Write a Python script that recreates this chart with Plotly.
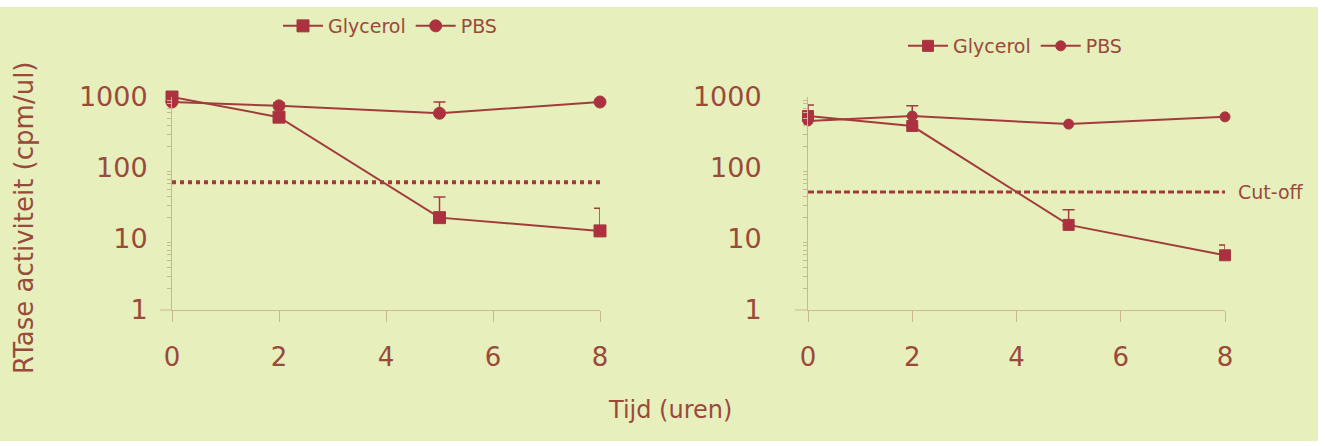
import math
import plotly.graph_objects as go

W, H = 1325, 446

# ---------------- data ----------------
time_h = [0, 2, 5, 8]

# left panel
left_glycerol = [1000, 520, 20, 13]
left_glycerol_err = [60, 60, 19, 14]
left_pbs = [850, 750, 590, 850]
left_pbs_err = [0, 70, 260, 0]
left_cutoff = [63, 63]

# right panel
right_glycerol = [540, 390, 15.8, 5.9]
right_glycerol_err = [230, 0, 10, 2.3]
right_pbs = [460, 540, 415, 525]
right_pbs_err = [0, 210, 0, 0]
right_cutoff = [46, 46]

cutoff_x = [0, 8]
x_ticks = [0, 2, 4, 6, 8]
y_ticks = [1, 10, 100, 1000]
y_ticklabels = ["1", "10", "100", "1000"]
y_minor = [m * d for d in (1, 10, 100) for m in range(2, 10)]

series_names = ["Glycerol", "PBS"]

# ---------------- style ----------------
BG = "#e7efbd"
LINE = "#a23c3c"
MARK = "#ad3040"
TEXT = "#9a4a3a"
AXIS = "#cbb98e"
FONT = "DejaVu Sans"

def px_x(p):
    return p / W

def px_y(p):
    return 1 - p / H

fig = go.Figure()

def add_series(xa, ya, yvals, errs, name, symbol, legend, size):
    fig.add_trace(go.Scatter(
        x=time_h, y=yvals, name=name, mode="lines+markers",
        xaxis=xa, yaxis=ya, legend=legend,
        line=dict(color=LINE, width=2),
        marker=dict(symbol=symbol, size=size, color=MARK, line=dict(color=LINE, width=1)),
        error_y=dict(type="data", symmetric=False, array=errs,
                     arrayminus=[0] * len(errs), color=LINE, thickness=1.5, width=6),
        cliponaxis=False,
    ))

add_series("x", "y", left_glycerol, left_glycerol_err, series_names[0], "square", "legend", 12)
add_series("x", "y", left_pbs, left_pbs_err, series_names[1], "circle", "legend", 12)
add_series("x2", "y2", right_glycerol, right_glycerol_err, series_names[0], "square", "legend2", 11)
add_series("x2", "y2", right_pbs, right_pbs_err, series_names[1], "circle", "legend2", 10)

# cut-off lines
fig.add_trace(go.Scatter(x=cutoff_x, y=left_cutoff, mode="lines", xaxis="x", yaxis="y",
                         line=dict(color=LINE, width=4, dash="dot"), showlegend=False,
                         hoverinfo="skip"))
fig.add_trace(go.Scatter(x=cutoff_x, y=right_cutoff, mode="lines", xaxis="x2", yaxis="y2",
                         line=dict(color=LINE, width=3, dash="6px,3px"), showlegend=False,
                         hoverinfo="skip"))

common_x = dict(
    range=[0, 8], tickvals=x_ticks, showline=True, linecolor=AXIS, linewidth=1,
    ticks="outside", ticklen=11, tickcolor=AXIS, tickwidth=1, showgrid=False,
    zeroline=False, tickfont=dict(family=FONT, size=26, color=TEXT),
    ticklabelstandoff=13, automargin=False,
)
common_y = dict(
    type="log", range=[0, 3], tickvals=y_ticks, ticktext=y_ticklabels,
    showline=True, linecolor=AXIS, linewidth=1, ticks="", showgrid=False, zeroline=False,
    tickfont=dict(family=FONT, size=27, color=TEXT), automargin=False,
    minor=dict(tickvals=y_minor, ticks="outside", ticklen=4, tickcolor=AXIS,
               tickwidth=1, showgrid=False),
)

fig.update_layout(
    width=W, height=H,
    margin=dict(l=0, r=0, t=0, b=0, pad=0, autoexpand=False),
    paper_bgcolor=BG, plot_bgcolor=BG,
    font=dict(family=FONT, color=TEXT),
    xaxis=dict(domain=[px_x(172), px_x(600)], anchor="y", **common_x),
    yaxis=dict(domain=[px_y(310), px_y(97)], anchor="x", ticklabelstandoff=18, **common_y),
    xaxis2=dict(domain=[px_x(808), px_x(1225)], anchor="y2", **common_x),
    yaxis2=dict(domain=[px_y(310), px_y(97)], anchor="x2", ticklabelstandoff=40, **common_y),
    legend=dict(x=px_x(278), y=px_y(7), xanchor="left", yanchor="top",
                orientation="h", bgcolor="rgba(0,0,0,0)",
                font=dict(family=FONT, size=19, color=TEXT), itemwidth=40),
    legend2=dict(x=px_x(903), y=px_y(27), xanchor="left", yanchor="top",
                 orientation="h", bgcolor="rgba(0,0,0,0)",
                 font=dict(family=FONT, size=19, color=TEXT), itemwidth=40),
    showlegend=True,
)

annotations = [
    dict(text="RTase activiteit (cpm/ul)", x=px_x(24), y=px_y(218), xref="paper", yref="paper",
         textangle=-90, showarrow=False, font=dict(family=FONT, size=26, color=TEXT),
         xanchor="center", yanchor="middle"),
    dict(text="Tijd (uren)", x=px_x(670), y=px_y(410), xref="paper", yref="paper",
         showarrow=False, font=dict(family=FONT, size=24, color=TEXT),
         xanchor="center", yanchor="middle"),
    dict(text="Cut-off", x=px_x(1236), y=math.log10(right_cutoff[-1]), xref="paper", yref="y2",
         showarrow=False, font=dict(family=FONT, size=19, color=TEXT),
         xanchor="left", yanchor="middle"),
]
fig.update_layout(annotations=annotations)

shapes = [
    # x-axis line extension left of the y axis
    dict(type="line", xref="paper", yref="paper", x0=px_x(160), x1=px_x(172),
         y0=px_y(310), y1=px_y(310), line=dict(color=AXIS, width=1)),
    dict(type="line", xref="paper", yref="paper", x0=px_x(795), x1=px_x(808),
         y0=px_y(310), y1=px_y(310), line=dict(color=AXIS, width=1)),
    # white scan borders
    dict(type="rect", xref="paper", yref="paper", x0=0, x1=1, y0=px_y(7), y1=1,
         fillcolor="white", line=dict(width=0), layer="below"),
    dict(type="rect", xref="paper", yref="paper", x0=px_x(1318), x1=1, y0=0, y1=1,
         fillcolor="white", line=dict(width=0), layer="below"),
    dict(type="rect", xref="paper", yref="paper", x0=0, x1=1, y0=0, y1=px_y(441),
         fillcolor="white", line=dict(width=0), layer="below"),
]
fig.update_layout(shapes=shapes)

fig.write_html("out.html", config={"displayModeBar": False},
               post_script="document.body.style.margin='0';")
